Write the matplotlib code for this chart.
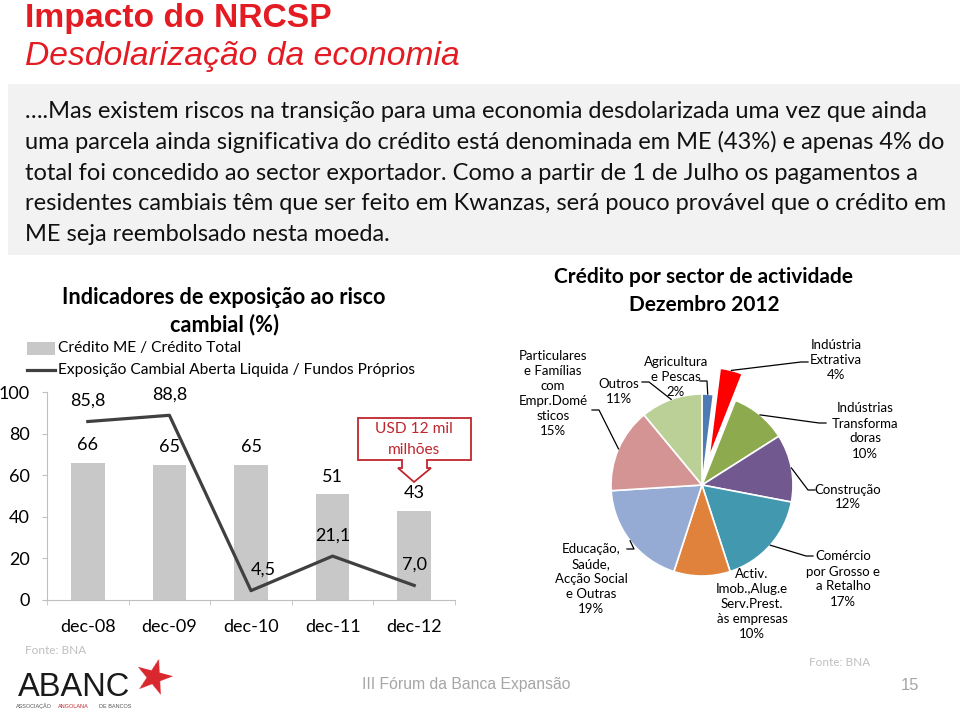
import matplotlib
matplotlib.use('Agg')
import matplotlib.pyplot as plt
from matplotlib.patches import Rectangle, Polygon
from matplotlib.lines import Line2D
import numpy as np

W, H = 960, 714
fig = plt.figure(figsize=(9.6, 7.14), dpi=100)
fig.patch.set_facecolor('white')


def fx(px):
    return px / W


def fy(py):
    return 1 - py / H


CAL = ['Lato', 'DejaVu Sans']
NARROW = ['Liberation Sans Narrow', 'Liberation Sans', 'DejaVu Sans']

# ---------------- data ----------------
periods = ['dec-08', 'dec-09', 'dec-10', 'dec-11', 'dec-12']
credito_me = [66, 65, 65, 51, 43]
exposicao = [85.8, 88.8, 4.5, 21.1, 7.0]
yticks = [0, 20, 40, 60, 80, 100]

sector_names = ['Agricultura\ne Pescas', 'Indústria\nExtrativa',
                'Indústrias\nTransforma\ndoras', 'Construção',
                'Comércio\npor Grosso e\na Retalho',
                'Activ.\nImob.,Alug.e\nServ.Prest.\nàs empresas',
                'Educação,\nSaúde,\nAcção Social\ne Outras',
                'Particulares\ne Famílias\ncom\nEmpr.Domé\nsticos',
                'Outros']
sector_shares = [2, 4, 10, 12, 17, 10, 19, 15, 11]
sector_colors = ['#4F7BB5', '#FF0000', '#8EAA4F', '#71588F', '#4198AF',
                 '#E0823C', '#95ABD4', '#D59494', '#BAD097']
sector_explode = [0, 0.3, 0, 0, 0, 0, 0, 0, 0]

# ---------------- header ----------------
fig.text(fx(25), fy(18), 'Impacto do NRCSP', color='#E31B23', fontsize=24.2,
         fontweight='bold', family=NARROW, va='center', ha='left')
fig.text(fx(25), fy(56), 'Desdolarização da economia', color='#E31B23',
         fontsize=24.2, style='italic', family=NARROW, va='center', ha='left')

fig.add_artist(Rectangle((fx(8), fy(255)), fx(960) - fx(8), fy(84) - fy(255),
                         transform=fig.transFigure, facecolor='#F2F2F2',
                         edgecolor='none', zorder=0))
body = ['….Mas existem riscos na transição para uma economia desdolarizada uma vez que ainda',
        'uma parcela ainda significativa do crédito está denominada em ME (43%) e apenas 4% do',
        'total foi concedido ao sector exportador. Como a partir de 1 de Julho os pagamentos a',
        'residentes cambiais têm que ser feito em Kwanzas, será pouco provável que o crédito em',
        'ME seja reembolsado nesta moeda.']
for i, line in enumerate(body):
    fig.text(fx(25), fy(111 + 31 * i), line, fontsize=17, family=CAL,
             va='center', ha='left', color='#111111')

# ---------------- left chart ----------------
fig.text(fx(224), fy(297), 'Indicadores de exposição ao risco', fontsize=15.6,
         fontweight='bold', family=CAL, ha='center', va='center')
fig.text(fx(224), fy(325), 'cambial (%)', fontsize=15.6,
         fontweight='bold', family=CAL, ha='center', va='center')

fig.add_artist(Rectangle((fx(27), fy(355)), fx(55) - fx(27), fy(342) - fy(355),
                         transform=fig.transFigure, facecolor='#C8C8C8',
                         edgecolor='none'))
fig.text(fx(58), fy(348), 'Crédito ME / Crédito Total', fontsize=11.2,
         family=CAL, va='center', ha='left')
fig.add_artist(Line2D([fx(27), fx(55)], [fy(370), fy(370)], color='#404040',
                      lw=2.3, transform=fig.transFigure))
fig.text(fx(58), fy(370), 'Exposição Cambial Aberta Liquida / Fundos Próprios',
         fontsize=11.2, family=CAL, va='center', ha='left')

ax = fig.add_axes([fx(47), fy(600), fx(455) - fx(47), fy(392) - fy(600)])
x = np.arange(len(periods))
ax.bar(x, credito_me, width=0.41, color='#C8C8C8', zorder=2)
ax.plot(x, exposicao, color='#404040', lw=2.3, zorder=3)
ax.set_xlim(-0.5, len(periods) - 0.5)
ax.set_ylim(0, 100)
ax.set_yticks(yticks)
ax.set_yticklabels([str(t) for t in yticks], family=CAL)
ax.set_xticks(x)
ax.set_xticklabels(periods, family=CAL)
ax.set_xticks(np.arange(-0.5, len(periods), 1), minor=True)
ax.tick_params(axis='x', which='major', length=0, pad=14, labelsize=13)
ax.tick_params(axis='x', which='minor', length=3.6, color='#BFBFBF')
ax.tick_params(axis='y', length=3.6, color='#BFBFBF', labelsize=13, pad=9)
for s in ['top', 'right']:
    ax.spines[s].set_visible(False)
for s in ['left', 'bottom']:
    ax.spines[s].set_color('#BFBFBF')
ax.patch.set_alpha(0)

for xi, v in zip(x, credito_me):
    ax.annotate(f'{v}', (xi, v), xytext=(0, 12.5), textcoords='offset points',
                ha='center', va='center', fontsize=13, family=CAL)
line_dx = [0, 0, 9, 0, 0]
for xi, v, dx in zip(x, exposicao, line_dx):
    ax.annotate(f'{v:.1f}'.replace('.', ','), (xi, v), xytext=(dx, 15),
                textcoords='offset points', ha='center', va='center',
                fontsize=13, family=CAL)

# callout
pts = [(358, 418), (471, 418), (471, 460), (427, 460), (427, 468), (431, 468),
       (414, 482), (398, 468), (402, 468), (402, 460), (358, 460)]
fig.add_artist(Polygon([(fx(a), fy(b)) for a, b in pts], closed=True,
                       transform=fig.transFigure, facecolor='white',
                       edgecolor='#C0262D', lw=1.3, zorder=5))
fig.text(fx(414), fy(429), 'USD 12 mil', color='#C0262D', fontsize=11.2,
         family=CAL, ha='center', va='center', zorder=6)
fig.text(fx(414), fy(450), 'milhões', color='#C0262D', fontsize=11.2,
         family=CAL, ha='center', va='center', zorder=6)

fig.text(fx(25), fy(650), 'Fonte: BNA', color='#BFBFBF', fontsize=8.5,
         family=CAL, ha='left', va='center')

# ---------------- pie chart ----------------
fig.text(fx(704), fy(277), 'Crédito por sector de actividade', fontsize=15,
         fontweight='bold', family=CAL, ha='center', va='center')
fig.text(fx(704), fy(305), 'Dezembro 2012', fontsize=15,
         fontweight='bold', family=CAL, ha='center', va='center')

cx, cy, R = 702, 485, 91
half = 1.25 * R
pax = fig.add_axes([fx(cx - half), fy(cy + half), 2 * half / W, 2 * half / H])
wedges, _ = pax.pie(sector_shares, colors=sector_colors, startangle=90,
                    counterclock=False, explode=sector_explode,
                    wedgeprops=dict(edgecolor='white', linewidth=1.2))
pax.set_xlim(-1.25, 1.25)
pax.set_ylim(-1.25, 1.25)
pax.set_aspect('equal')
pax.axis('off')

# label positions (px centre of text block), leader anchor (px) or None
label_pos = [(676, 377), (836, 360), (865, 431), (848, 497), (843, 579),
             (752, 604), (591, 579), (553, 393), (619, 391)]
anchors = [(700, 381), (808, 362), (826, 423), (815, 490), (813, 556),
           None, (627, 549), (592, 410), (642, 382)]

for w, name, share, (lx, ly), anc in zip(wedges, sector_names, sector_shares,
                                          label_pos, anchors):
    fig.text(fx(lx), fy(ly), f'{name}\n{share}%', fontsize=9.5, family=CAL,
             ha='center', va='center', linespacing=1.3, zorder=6)
    if anc is None:
        continue
    ang = np.deg2rad((w.theta1 + w.theta2) / 2)
    ex, ey = w.center
    px_e = cx + (ex + np.cos(ang)) * R
    py_e = cy - (ey + np.sin(ang)) * R
    ax0, ay0 = anc
    side = 1 if px_e > ax0 else -1
    elbow = (ax0 + side * 7, ay0)
    fig.add_artist(Line2D([fx(ax0), fx(elbow[0]), fx(px_e)],
                          [fy(ay0), fy(elbow[1]), fy(py_e)], color='black',
                          lw=0.9, transform=fig.transFigure, zorder=5))

fig.text(fx(840), fy(662), 'Fonte: BNA', color='#BFBFBF', fontsize=8.5,
         family=CAL, ha='center', va='center')

# ---------------- footer ----------------
fig.text(fx(18), fy(688), 'ABANC', fontsize=23.5, family=['Liberation Sans'],
         color='#1A1A1A', ha='left', va='center')
fig.text(fx(153), fy(681), '★', fontsize=34, family=['DejaVu Sans'],
         color='#D9262C', ha='center', va='center', rotation=-15)
fig.text(fx(16), fy(706), 'ASSOCIAÇÃO', fontsize=4, color='#555555',
         family=['Liberation Sans'], ha='left', va='center')
fig.text(fx(58), fy(706), 'ANGOLANA', fontsize=4, color='#C0262D',
         family=['Liberation Sans'], ha='left', va='center')
fig.text(fx(99), fy(706), 'DE BANCOS', fontsize=4, color='#555555',
         family=['Liberation Sans'], ha='left', va='center')
fig.text(fx(466), fy(685), 'III Fórum da Banca Expansão', fontsize=11.3,
         family=NARROW, color='#A6A6A6', ha='center', va='center')
fig.text(fx(910), fy(685), '15', fontsize=12, family=NARROW,
         color='#A6A6A6', ha='center', va='center')

fig.savefig('out.png', dpi=100)
